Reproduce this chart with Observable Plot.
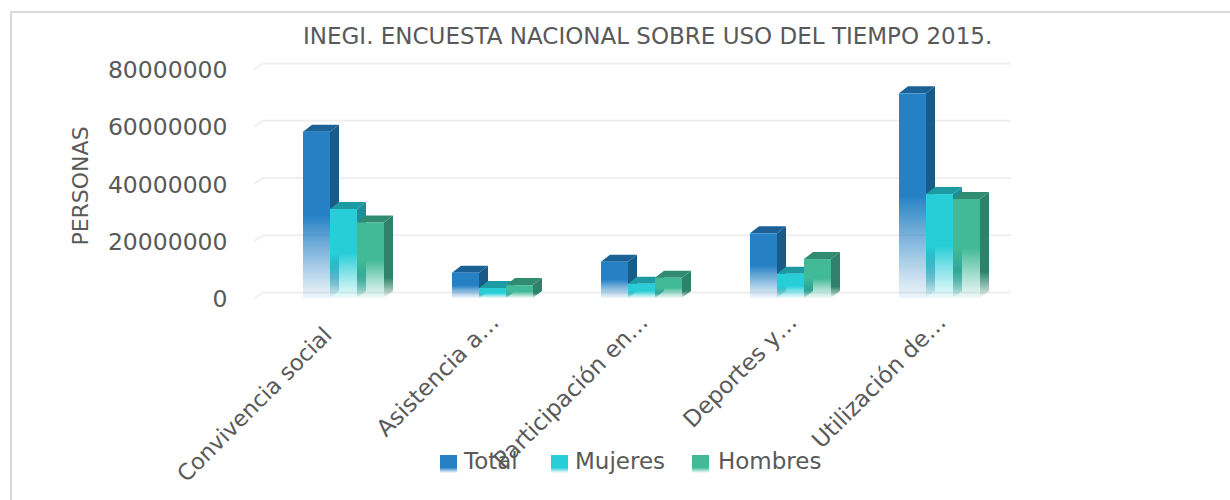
<!DOCTYPE html>
<html><head><meta charset="utf-8">
<script src="https://cdn.jsdelivr.net/npm/d3@7"></script>
<script src="https://cdn.jsdelivr.net/npm/@observablehq/plot@0.6"></script>
<style>
html,body{margin:0;padding:0;background:#fff}
#box{position:relative;width:1230px;height:500px;overflow:hidden;font-family:"DejaVu Sans",sans-serif;color:#595959}
#frame{position:absolute;left:10px;top:11px;width:1240px;height:520px;border:2px solid #d9d9d9;box-sizing:border-box}
#title{position:absolute;left:303px;top:23px;font-size:23px;white-space:nowrap}
#legend{position:absolute;left:0;top:447px;font-size:23px;line-height:28px;white-space:nowrap}
#legend span{position:absolute;top:0}
#legend i{position:absolute;top:8px;width:17px;height:18px}
svg{position:absolute;left:0;top:0}
</style></head><body>
<div id="box"><div id="frame"></div>
<div id="title">INEGI. ENCUESTA NACIONAL SOBRE USO DEL TIEMPO 2015.</div>
<div id="plot"></div>
<div id="legend"></div></div>
<script>
const categories=["Convivencia social","Asistencia a…","Participación en…","Deportes y…","Utilización de…"];
const seriesNames=["Total","Mujeres","Hombres"];
const total=[58100000,8800000,12700000,22600000,71500000];
const mujeres=[31100000,3500000,5000000,8500000,36300000];
const hombres=[26400000,4500000,7100000,13600000,34600000];
const yTicks=[0,20000000,40000000,60000000,80000000];
const colors={Total:["#2581c4","#185a88","#1c6196"],Mujeres:["#27ced7","#1b9096","#1d9aa1"],Hombres:["#42ba97","#2e8269","#318b71"]};
const values={Total:total,Mujeres:mujeres,Hombres:hombres};
const DX=9,DY=7,GDY=6;
const NS="http://www.w3.org/2000/svg";
const firstFacet=()=>categories[0];

const table=seriesNames.flatMap(s=>categories.map((c,i)=>({category:c,series:s,value:values[s][i]})));

function poly(rect,kind){
  const x=+rect.getAttribute("x"),y=+rect.getAttribute("y"),w=+rect.getAttribute("width"),h=+rect.getAttribute("height");
  const p=document.createElementNS(NS,"polygon");
  const pts=kind==="side"?[[x+w,y],[x+w+DX,y-DY],[x+w+DX,y+h-DY],[x+w,y+h]]
    :[[x,y],[x+DX,y-DY],[x+w+DX,y-DY],[x+w,y]];
  p.setAttribute("points",pts.join(" "));
  return p;
}
function face(kind){
  return function(index,scales,vals,dims,ctx,next){
    const g=next(index,scales,vals,dims,ctx);
    for(const r of [...g.querySelectorAll("rect")]) r.replaceWith(poly(r,kind));
    return g;
  };
}
function defs(){
  const d=document.createElementNS(NS,"defs");
  const mk=(id,c,stops)=>`<linearGradient id="${id}" x1="0" y1="0" x2="0" y2="1">`+stops.map(([o,a])=>`<stop offset="${o}" stop-color="${c}" stop-opacity="${a}"/>`).join("")+`</linearGradient>`;
  d.innerHTML=seriesNames.map(s=>
    mk("front"+s,colors[s][0],[[0,1],[.5,1],[.65,.7],[.88,.28],[1,.08]])+
    mk("side"+s,colors[s][1],[[0,1],[.75,1],[.92,.4],[1,0]])).join("");
  return d;
}
const prism=s=>{
  const data=table.filter(d=>d.series===s);
  const base={fx:"category",x:"series",y:"value",sort:null};
  return [
    Plot.barY(data,{...base,fill:`url(#side${s})`,render:face("side")}),
    Plot.barY(data,{...base,fill:colors[s][2],render:face("top")}),
    Plot.barY(data,{...base,fill:`url(#front${s})`})
  ];
};
const grid=Plot.ruleY(yTicks,{y:d=>d,fx:firstFacet,stroke:"#efefef",strokeWidth:2,
  render(index,scales,vals,dims,ctx,next){
    const g=next(index,scales,vals,dims,ctx);
    for(const l of [...g.querySelectorAll("line")]){
      const x1=+l.getAttribute("x1"),y=+l.getAttribute("y1");
      const p=document.createElementNS(NS,"polyline");
      p.setAttribute("points",[[x1-49,y],[x1-40,y-GDY],[x1+708,y-GDY]].join(" "));
      p.setAttribute("fill","none");
      l.replaceWith(p);
    }
    g.prepend(defs());
    return g;
  }});
const fxLabels={anchor:"bottom",label:null,tickSize:0,tickRotate:-45,fill:"#595959",textAnchor:"end"};
const chart=Plot.plot({
  width:1230,height:500,marginLeft:269,marginRight:216,marginTop:69,marginBottom:202,
  style:{background:"transparent",fontFamily:"'DejaVu Sans',sans-serif",overflow:"visible"},
  fx:{domain:categories,paddingInner:.456,paddingOuter:.228,label:null,axis:null},
  x:{domain:seriesNames,padding:0,axis:null},
  y:{domain:[0,80000000],axis:null},
  marks:[
    grid,
    ...seriesNames.flatMap(prism),
    Plot.text(yTicks,{y:d=>d,text:d=>String(d),fx:firstFacet,frameAnchor:"left",textAnchor:"end",dx:-76,dy:1,fontSize:23.5,fill:"#595959"}),
    Plot.text(["PERSONAS"],{fx:firstFacet,frameAnchor:"left",textAnchor:"middle",dx:-223,dy:2,rotate:-90,fontSize:22,fill:"#595959"}),
    Plot.axisFx({...fxLabels,fontSize:22.4,ticks:categories.slice(0,1),tickPadding:33,dx:-16}),
    Plot.axisFx({...fxLabels,fontSize:23,ticks:categories.slice(1),tickPadding:20,dx:2})
  ]
});
document.getElementById("plot").append(chart);
const legendPos=[[440,464],[551,575],[692,718]];
const leg=document.getElementById("legend");
seriesNames.forEach((s,i)=>{
  const sw=document.createElement("i");sw.style.left=legendPos[i][0]+"px";
  sw.style.background=`linear-gradient(${colors[s][0]} 0,${colors[s][0]} 70%,rgba(255,255,255,.1) 100%)`;
  const t=document.createElement("span");t.style.left=legendPos[i][1]+"px";t.textContent=s;
  leg.append(sw,t);
});
</script></body></html>
